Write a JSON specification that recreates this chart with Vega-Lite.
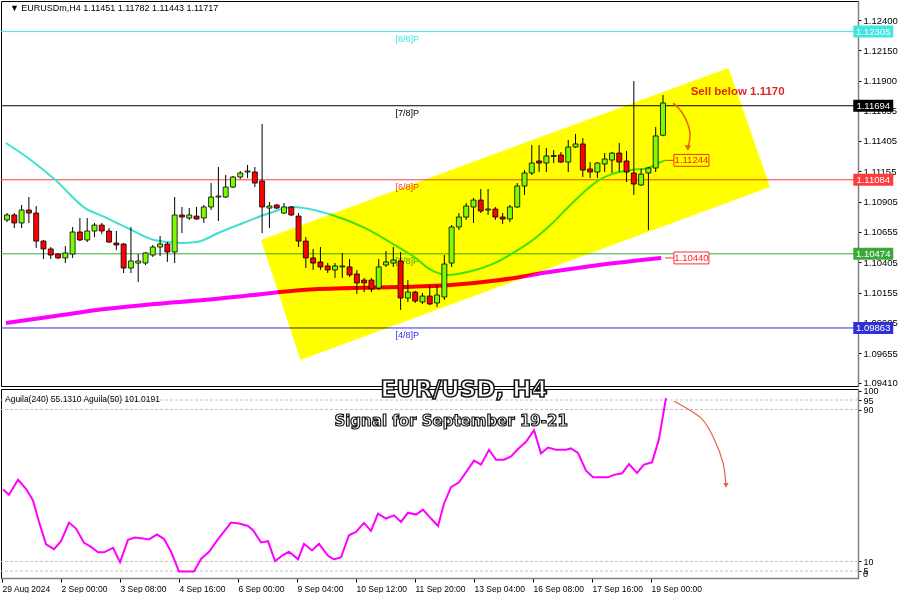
{
  "$schema": "https://vega.github.io/schema/vega-lite/v6.json",
  "background": "#ffffff",
  "padding": {"left": 0, "top": 0, "right": 0, "bottom": 0},
  "spacing": 3,
  "bounds": "flush",
  "config": {
    "view": {"stroke": "#000000", "strokeWidth": 1},
    "axis": {"labelFont": "Liberation Sans", "labelColor": "#000000", "tickColor": "#000000", "domainColor": "#808080", "grid": false, "labelOverlap": false, "labelFlush": false, "labelBound": false},
    "text": {"font": "Liberation Sans"}
  },
  "datasets": {
    "candles": [
      {"i":0,"o":1.10753,"h":1.10810,"l":1.10736,"c":1.10794},
      {"i":1,"o":1.10794,"h":1.10810,"l":1.10687,"c":1.10728},
      {"i":2,"o":1.10728,"h":1.10876,"l":1.10687,"c":1.10835},
      {"i":3,"o":1.10835,"h":1.10942,"l":1.10728,"c":1.10810},
      {"i":4,"o":1.10810,"h":1.10868,"l":1.10522,"c":1.10579},
      {"i":5,"o":1.10579,"h":1.10588,"l":1.10431,"c":1.10514},
      {"i":6,"o":1.10514,"h":1.10530,"l":1.10431,"c":1.10464},
      {"i":7,"o":1.10472,"h":1.10481,"l":1.10431,"c":1.10440},
      {"i":8,"o":1.10440,"h":1.10538,"l":1.10398,"c":1.10481},
      {"i":9,"o":1.10472,"h":1.10695,"l":1.10440,"c":1.10654},
      {"i":10,"o":1.10654,"h":1.10769,"l":1.10579,"c":1.10588},
      {"i":11,"o":1.10588,"h":1.10769,"l":1.10571,"c":1.10662},
      {"i":12,"o":1.10662,"h":1.10728,"l":1.10612,"c":1.10711},
      {"i":13,"o":1.10711,"h":1.10728,"l":1.10637,"c":1.10662},
      {"i":14,"o":1.10662,"h":1.10687,"l":1.10563,"c":1.10571},
      {"i":15,"o":1.10563,"h":1.10662,"l":1.10505,"c":1.10547},
      {"i":16,"o":1.10555,"h":1.10563,"l":1.10316,"c":1.10357},
      {"i":17,"o":1.10357,"h":1.10695,"l":1.10316,"c":1.10415},
      {"i":18,"o":1.10398,"h":1.10472,"l":1.10242,"c":1.10415},
      {"i":19,"o":1.10398,"h":1.10489,"l":1.10382,"c":1.10481},
      {"i":20,"o":1.10464,"h":1.10547,"l":1.10448,"c":1.10530},
      {"i":21,"o":1.10530,"h":1.10621,"l":1.10456,"c":1.10555},
      {"i":22,"o":1.10555,"h":1.10571,"l":1.10407,"c":1.10489},
      {"i":23,"o":1.10489,"h":1.10942,"l":1.10398,"c":1.10794},
      {"i":24,"o":1.10794,"h":1.10860,"l":1.10645,"c":1.10777},
      {"i":25,"o":1.10769,"h":1.10851,"l":1.10753,"c":1.10794},
      {"i":26,"o":1.10785,"h":1.10860,"l":1.10753,"c":1.10761},
      {"i":27,"o":1.10769,"h":1.10876,"l":1.10728,"c":1.10860},
      {"i":28,"o":1.10860,"h":1.11057,"l":1.10835,"c":1.10942},
      {"i":29,"o":1.10942,"h":1.11189,"l":1.10744,"c":1.10950},
      {"i":30,"o":1.10942,"h":1.11123,"l":1.10934,"c":1.11024},
      {"i":31,"o":1.11024,"h":1.11115,"l":1.11016,"c":1.11107},
      {"i":32,"o":1.11107,"h":1.11156,"l":1.11090,"c":1.11140},
      {"i":33,"o":1.11148,"h":1.11206,"l":1.11098,"c":1.11156},
      {"i":34,"o":1.11148,"h":1.11189,"l":1.11024,"c":1.11057},
      {"i":35,"o":1.11074,"h":1.11543,"l":1.10645,"c":1.10860},
      {"i":36,"o":1.10851,"h":1.10901,"l":1.10687,"c":1.10868},
      {"i":37,"o":1.10876,"h":1.10884,"l":1.10843,"c":1.10851},
      {"i":38,"o":1.10810,"h":1.10893,"l":1.10802,"c":1.10860},
      {"i":39,"o":1.10860,"h":1.10868,"l":1.10785,"c":1.10794},
      {"i":40,"o":1.10785,"h":1.10810,"l":1.10530,"c":1.10579},
      {"i":41,"o":1.10579,"h":1.10612,"l":1.10357,"c":1.10440},
      {"i":42,"o":1.10440,"h":1.10514,"l":1.10341,"c":1.10398},
      {"i":43,"o":1.10407,"h":1.10530,"l":1.10341,"c":1.10366},
      {"i":44,"o":1.10374,"h":1.10398,"l":1.10316,"c":1.10341},
      {"i":45,"o":1.10341,"h":1.10398,"l":1.10275,"c":1.10374},
      {"i":46,"o":1.10366,"h":1.10481,"l":1.10275,"c":1.10374},
      {"i":47,"o":1.10366,"h":1.10431,"l":1.10283,"c":1.10300},
      {"i":48,"o":1.10308,"h":1.10341,"l":1.10143,"c":1.10234},
      {"i":49,"o":1.10258,"h":1.10275,"l":1.10159,"c":1.10234},
      {"i":50,"o":1.10258,"h":1.10275,"l":1.10159,"c":1.10184},
      {"i":51,"o":1.10192,"h":1.10431,"l":1.10176,"c":1.10366},
      {"i":52,"o":1.10382,"h":1.10497,"l":1.10366,"c":1.10407},
      {"i":53,"o":1.10398,"h":1.10530,"l":1.10366,"c":1.10423},
      {"i":54,"o":1.10415,"h":1.10489,"l":1.10011,"c":1.10110},
      {"i":55,"o":1.10110,"h":1.10258,"l":1.10077,"c":1.10159},
      {"i":56,"o":1.10159,"h":1.10168,"l":1.10069,"c":1.10085},
      {"i":57,"o":1.10077,"h":1.10151,"l":1.10061,"c":1.10126},
      {"i":58,"o":1.10126,"h":1.10217,"l":1.10052,"c":1.10061},
      {"i":59,"o":1.10069,"h":1.10217,"l":1.10036,"c":1.10135},
      {"i":60,"o":1.10118,"h":1.10464,"l":1.10094,"c":1.10390},
      {"i":61,"o":1.10398,"h":1.10711,"l":1.10366,"c":1.10695},
      {"i":62,"o":1.10695,"h":1.10810,"l":1.10670,"c":1.10777},
      {"i":63,"o":1.10777,"h":1.10893,"l":1.10753,"c":1.10868},
      {"i":64,"o":1.10860,"h":1.10934,"l":1.10728,"c":1.10917},
      {"i":65,"o":1.10917,"h":1.11008,"l":1.10810,"c":1.10827},
      {"i":66,"o":1.10835,"h":1.11008,"l":1.10794,"c":1.10843},
      {"i":67,"o":1.10843,"h":1.10860,"l":1.10753,"c":1.10777},
      {"i":68,"o":1.10777,"h":1.10810,"l":1.10720,"c":1.10761},
      {"i":69,"o":1.10761,"h":1.10876,"l":1.10736,"c":1.10860},
      {"i":70,"o":1.10860,"h":1.11057,"l":1.10851,"c":1.11033},
      {"i":71,"o":1.11033,"h":1.11164,"l":1.10959,"c":1.11140},
      {"i":72,"o":1.11140,"h":1.11370,"l":1.11123,"c":1.11222},
      {"i":73,"o":1.11239,"h":1.11370,"l":1.11148,"c":1.11222},
      {"i":74,"o":1.11222,"h":1.11346,"l":1.11148,"c":1.11280},
      {"i":75,"o":1.11276,"h":1.11329,"l":1.11222,"c":1.11284},
      {"i":76,"o":1.11288,"h":1.11313,"l":1.11222,"c":1.11230},
      {"i":77,"o":1.11230,"h":1.11412,"l":1.11148,"c":1.11354},
      {"i":78,"o":1.11354,"h":1.11461,"l":1.11346,"c":1.11379},
      {"i":79,"o":1.11379,"h":1.11428,"l":1.11107,"c":1.11164},
      {"i":80,"o":1.11173,"h":1.11230,"l":1.11098,"c":1.11148},
      {"i":81,"o":1.11148,"h":1.11230,"l":1.11098,"c":1.11222},
      {"i":82,"o":1.11214,"h":1.11304,"l":1.11148,"c":1.11255},
      {"i":83,"o":1.11247,"h":1.11313,"l":1.11140,"c":1.11304},
      {"i":84,"o":1.11304,"h":1.11387,"l":1.11148,"c":1.11230},
      {"i":85,"o":1.11239,"h":1.11321,"l":1.11066,"c":1.11148},
      {"i":86,"o":1.11140,"h":1.11898,"l":1.10959,"c":1.11049},
      {"i":87,"o":1.11041,"h":1.11173,"l":1.11033,"c":1.11131},
      {"i":88,"o":1.11140,"h":1.11189,"l":1.10670,"c":1.11181},
      {"i":89,"o":1.11181,"h":1.11519,"l":1.11148,"c":1.11445},
      {"i":90,"o":1.11451,"h":1.11782,"l":1.11443,"c":1.11717}
    ],
    "ma20": [
      {"i":-0.14,"v":1.11387},{"i":3.25,"v":1.11247},{"i":6.64,"v":1.11082},{"i":10.71,"v":1.10851},
      {"i":13.42,"v":1.10777},{"i":17.08,"v":1.10670},{"i":20.2,"v":1.10588},{"i":23.86,"v":1.10563},
      {"i":26.03,"v":1.10571},{"i":29.29,"v":1.10654},{"i":32.41,"v":1.10728},{"i":36.07,"v":1.10810},
      {"i":39.19,"v":1.10860},{"i":44.61,"v":1.10794},{"i":49.08,"v":1.10687},{"i":52.75,"v":1.10563},
      {"i":55.86,"v":1.10448},{"i":58.17,"v":1.10341},{"i":60.47,"v":1.10300},{"i":63.19,"v":1.10324},
      {"i":67.25,"v":1.10407},{"i":69.42,"v":1.10481},{"i":72.14,"v":1.10588},{"i":74.85,"v":1.10728},
      {"i":77.56,"v":1.10893},{"i":79.46,"v":1.11000},{"i":81.22,"v":1.11082},{"i":82.98,"v":1.11131},
      {"i":85.69,"v":1.11164},{"i":88.0,"v":1.11181},{"i":89.36,"v":1.11222},{"i":90.31,"v":1.11244}
    ],
    "ma200": [
      {"i":-0.14,"v":1.09904},{"i":6.64,"v":1.09962},{"i":13.42,"v":1.10019},{"i":20.2,"v":1.10061},
      {"i":26.98,"v":1.10094},{"i":33.76,"v":1.10135},{"i":40.54,"v":1.10176},{"i":47.32,"v":1.10192},
      {"i":54.1,"v":1.10201},{"i":60.88,"v":1.10217},{"i":67.66,"v":1.10258},{"i":74.44,"v":1.10324},
      {"i":81.22,"v":1.10382},{"i":89.76,"v":1.10440}
    ],
    "osc": [
      {"i":0.14,"v":47.9},{"i":0.95,"v":45.1},{"i":2.17,"v":53.0},{"i":3.25,"v":48.3},{"i":4.2,"v":42.1},
      {"i":5.02,"v":30.8},{"i":5.97,"v":19.0},{"i":7.05,"v":16.5},{"i":8.0,"v":20.7},{"i":9.08,"v":30.5},
      {"i":10.03,"v":27.3},{"i":11.12,"v":19.8},{"i":12.07,"v":17.7},{"i":13.02,"v":14.8},{"i":13.83,"v":14.8},
      {"i":15.05,"v":17.2},{"i":16.0,"v":9.6},{"i":17.08,"v":21.4},{"i":18.03,"v":22.6},{"i":19.12,"v":22.1},
      {"i":19.93,"v":21.6},{"i":21.02,"v":24.2},{"i":21.97,"v":21.8},{"i":22.92,"v":15.1},{"i":24.0,"v":4.7},
      {"i":24.95,"v":4.7},{"i":26.03,"v":4.7},{"i":26.98,"v":11.3},{"i":28.07,"v":15.1},{"i":29.29,"v":21.8},
      {"i":31.05,"v":30.5},{"i":32.14,"v":30.0},{"i":33.36,"v":28.7},{"i":34.03,"v":26.5},{"i":35.12,"v":20.0},
      {"i":36.07,"v":20.7},{"i":37.02,"v":10.2},{"i":38.1,"v":13.4},{"i":38.92,"v":15.1},{"i":40.14,"v":11.1},
      {"i":40.95,"v":19.3},{"i":42.03,"v":15.8},{"i":42.98,"v":19.3},{"i":44.2,"v":13.0},{"i":45.02,"v":11.1},
      {"i":45.97,"v":12.2},{"i":47.05,"v":23.8},{"i":48.0,"v":25.6},{"i":49.08,"v":30.3},{"i":50.03,"v":26.1},
      {"i":50.98,"v":35.2},{"i":52.07,"v":32.6},{"i":53.15,"v":34.3},{"i":54.1,"v":30.8},{"i":55.05,"v":35.7},
      {"i":56.14,"v":34.7},{"i":57.08,"v":37.3},{"i":58.17,"v":32.6},{"i":59.12,"v":28.7},{"i":59.93,"v":40.4},
      {"i":60.88,"v":49.1},{"i":61.97,"v":51.7},{"i":64.0,"v":63.1},{"i":64.95,"v":61.0},{"i":66.03,"v":68.8},
      {"i":66.98,"v":63.6},{"i":68.07,"v":63.6},{"i":69.02,"v":65.3},{"i":69.97,"v":69.2},{"i":71.05,"v":73.0},
      {"i":72.14,"v":79.1},{"i":73.08,"v":66.9},{"i":74.03,"v":70.0},{"i":75.12,"v":68.8},{"i":76.47,"v":68.8},
      {"i":77.15,"v":69.5},{"i":78.1,"v":67.1},{"i":79.19,"v":57.8},{"i":80.14,"v":54.3},{"i":82.17,"v":54.3},
      {"i":82.98,"v":55.6},{"i":84.07,"v":56.4},{"i":85.02,"v":61.3},{"i":86.1,"v":56.6},{"i":87.05,"v":61.0},
      {"i":88.14,"v":62.2},{"i":89.08,"v":74.4},{"i":90.03,"v":96.0}
    ],
    "levels": [
      {"lvl":"[8/8]P","p":1.12305},
      {"lvl":"[7/8]P","p":1.11694},
      {"lvl":"[6/8]P","p":1.11084},
      {"lvl":"[5/8]P","p":1.10474},
      {"lvl":"[4/8]P","p":1.09863}
    ],
    "tags": [{"p":1.11244,"t":"1.11244"},{"p":1.10440,"t":"1.10440"}],
    "channel": [
      {"i":34.85,"top":1.10588,"bot":1.10588},
      {"i":40.27,"top":1.10708,"bot":1.09599},
      {"i":98.98,"top":1.12005,"bot":1.10898},
      {"i":104.68,"top":1.11024,"bot":1.11024}
    ],
    "arrow1": [
      {"k":0,"i":91.39,"p":1.11716},{"k":1,"i":92.75,"p":1.11626},{"k":2,"i":93.69,"p":1.11478},{"k":3,"i":93.42,"p":1.11346}
    ],
    "arrow2": [
      {"k":0,"i":91.12,"v":94.4},{"k":1,"i":94.78,"v":85.5},{"k":2,"i":96.54,"v":74.6},{"k":3,"i":97.76,"v":62.0},{"k":4,"i":98.17,"v":50.0}
    ],
    "oscLevels": [{"lv":95},{"lv":90},{"lv":10},{"lv":5}]
  },
  "vconcat": [
    {
      "width": 857,
      "height": 385,
      "layer": [
        {
          "data": {"name": "levels"},
          "mark": {"type": "rule", "strokeWidth": 1},
          "encoding": {
            "y": {"field": "p", "type": "quantitative", "scale": {"domain": [1.09385, 1.12557], "nice": false, "zero": false},
              "axis": {"orient": "right", "title": null, "values": [1.124, 1.1215, 1.119, 1.11655, 1.11405, 1.11155, 1.10905, 1.10655, 1.10405, 1.10155, 1.09905, 1.09655, 1.0941], "tickCount": 30, "format": ".5f", "labelFontSize": 9.5, "tickSize": 3, "labelPadding": 2, "domainWidth": 1.5, "labelOverlap": false}},
            "color": {"field": "lvl", "type": "nominal", "legend": null, "scale": {"domain": ["[8/8]P", "[7/8]P", "[6/8]P", "[5/8]P", "[4/8]P"], "range": ["#3ee8e0", "#000000", "#ff3c3c", "#3ca83c", "#3030d8"]}}
          }
        },
        {
          "mark": {"type": "rule", "color": "#9a9a9a", "strokeWidth": 1},
          "encoding": {"y": {"datum": 1.11719, "type": "quantitative", "scale": {"domain": [1.09385, 1.12557], "nice": false, "zero": false}}}
        },
        {
          "mark": {"type": "rule", "color": "#5a5ae6", "strokeWidth": 1},
          "encoding": {
            "x": {"datum": 35.8, "type": "quantitative", "scale": {"domain": [-0.14, 116.07], "nice": false, "zero": false}, "axis": null},
            "x2": {"datum": 116.07},
            "y": {"datum": 1.119, "type": "quantitative", "scale": {"domain": [1.09385, 1.12557], "nice": false, "zero": false}}
          }
        },
        {
          "data": {"name": "levels"},
          "mark": {"type": "text", "fontSize": 9, "dy": 7, "align": "center", "baseline": "middle"},
          "encoding": {
            "x": {"datum": 54.9, "type": "quantitative", "scale": {"domain": [-0.14, 116.07], "nice": false, "zero": false}, "axis": null},
            "y": {"field": "p", "type": "quantitative", "scale": {"domain": [1.09385, 1.12557], "nice": false, "zero": false}},
            "text": {"field": "lvl"},
            "color": {"field": "lvl", "type": "nominal", "legend": null}
          }
        },
        {
          "data": {"name": "ma200"},
          "mark": {"type": "line", "color": "#ff00ff", "strokeWidth": 4, "interpolate": "monotone", "clip": true},
          "encoding": {
            "x": {"field": "i", "type": "quantitative", "scale": {"domain": [-0.14, 116.07], "nice": false, "zero": false}, "axis": null},
            "y": {"field": "v", "type": "quantitative", "scale": {"domain": [1.09385, 1.12557], "nice": false, "zero": false}}
          }
        },
        {
          "data": {"name": "ma20"},
          "mark": {"type": "line", "color": "#40e0d0", "strokeWidth": 2, "interpolate": "monotone", "clip": true},
          "encoding": {
            "x": {"field": "i", "type": "quantitative", "scale": {"domain": [-0.14, 116.07], "nice": false, "zero": false}, "axis": null},
            "y": {"field": "v", "type": "quantitative", "scale": {"domain": [1.09385, 1.12557], "nice": false, "zero": false}}
          }
        },
        {
          "data": {"name": "candles"},
          "mark": {"type": "rule", "color": "#000000", "strokeWidth": 1, "clip": true},
          "encoding": {
            "x": {"field": "i", "type": "quantitative", "scale": {"domain": [-0.14, 116.07], "nice": false, "zero": false}, "axis": null},
            "y": {"field": "l", "type": "quantitative", "scale": {"domain": [1.09385, 1.12557], "nice": false, "zero": false}},
            "y2": {"field": "h"}
          }
        },
        {
          "data": {"name": "candles"},
          "mark": {"type": "bar", "size": 5, "stroke": "#000000", "strokeWidth": 0.8, "orient": "vertical", "clip": true},
          "encoding": {
            "x": {"field": "i", "type": "quantitative", "scale": {"domain": [-0.14, 116.07], "nice": false, "zero": false}, "axis": null},
            "y": {"field": "o", "type": "quantitative", "scale": {"domain": [1.09385, 1.12557], "nice": false, "zero": false}},
            "y2": {"field": "c"},
            "fill": {"condition": {"test": "datum.c >= datum.o", "value": "#7cfc00"}, "value": "#ff0000"}
          }
        },
        {
          "data": {"name": "tags"},
          "mark": {"type": "rule", "color": "#ff3030", "strokeWidth": 1},
          "encoding": {
            "x": {"datum": 90.3, "type": "quantitative", "scale": {"domain": [-0.14, 116.07], "nice": false, "zero": false}, "axis": null},
            "x2": {"datum": 91.5},
            "y": {"field": "p", "type": "quantitative", "scale": {"domain": [1.09385, 1.12557], "nice": false, "zero": false}}
          }
        },
        {
          "data": {"name": "tags"},
          "mark": {"type": "point", "shape": "M-1,-0.34H1V0.34H-1Z", "size": 1225, "filled": true, "fill": "#ffffff", "stroke": "#ff3030", "strokeWidth": 1, "opacity": 1},
          "encoding": {
            "x": {"datum": 93.9, "type": "quantitative", "scale": {"domain": [-0.14, 116.07], "nice": false, "zero": false}, "axis": null},
            "y": {"field": "p", "type": "quantitative", "scale": {"domain": [1.09385, 1.12557], "nice": false, "zero": false}}
          }
        },
        {
          "data": {"name": "tags"},
          "mark": {"type": "text", "fontSize": 9.5, "color": "#ff2020", "align": "center", "baseline": "middle"},
          "encoding": {
            "x": {"datum": 93.9, "type": "quantitative", "scale": {"domain": [-0.14, 116.07], "nice": false, "zero": false}, "axis": null},
            "y": {"field": "p", "type": "quantitative", "scale": {"domain": [1.09385, 1.12557], "nice": false, "zero": false}},
            "text": {"field": "t"}
          }
        },
        {
          "data": {"values": [{"t": "Sell below 1.1170"}]},
          "mark": {"type": "text", "fontSize": 11.5, "fontWeight": "bold", "color": "#e02828", "align": "left", "baseline": "middle"},
          "encoding": {
            "x": {"datum": 93.8, "type": "quantitative", "scale": {"domain": [-0.14, 116.07], "nice": false, "zero": false}, "axis": null},
            "y": {"datum": 1.11807, "type": "quantitative", "scale": {"domain": [1.09385, 1.12557], "nice": false, "zero": false}},
            "text": {"field": "t"}
          }
        },
        {
          "data": {"name": "arrow1"},
          "mark": {"type": "line", "color": "#e8662a", "strokeWidth": 1.5, "interpolate": "cardinal"},
          "encoding": {
            "x": {"field": "i", "type": "quantitative", "scale": {"domain": [-0.14, 116.07], "nice": false, "zero": false}, "axis": null},
            "y": {"field": "p", "type": "quantitative", "scale": {"domain": [1.09385, 1.12557], "nice": false, "zero": false}},
            "order": {"field": "k"}
          }
        },
        {
          "data": {"name": "arrow1"},
          "transform": [{"filter": "datum.k == 3"}],
          "mark": {"type": "point", "shape": "triangle-down", "size": 40, "filled": true, "color": "#e8662a", "opacity": 1},
          "encoding": {
            "x": {"field": "i", "type": "quantitative", "scale": {"domain": [-0.14, 116.07], "nice": false, "zero": false}, "axis": null},
            "y": {"field": "p", "type": "quantitative", "scale": {"domain": [1.09385, 1.12557], "nice": false, "zero": false}}
          }
        },
        {
          "data": {"values": [{"t": "▼ EURUSDm,H4  1.11451 1.11782 1.11443 1.11717"}]},
          "mark": {"type": "text", "fontSize": 9, "color": "#000000", "align": "left", "baseline": "middle"},
          "encoding": {
            "x": {"datum": 0.4, "type": "quantitative", "scale": {"domain": [-0.14, 116.07], "nice": false, "zero": false}, "axis": null},
            "y": {"datum": 1.12499, "type": "quantitative", "scale": {"domain": [1.09385, 1.12557], "nice": false, "zero": false}},
            "text": {"field": "t"}
          }
        },
        {
          "data": {"name": "channel"},
          "mark": {"type": "area", "color": "#ffff00", "opacity": 1, "blend": "multiply", "orient": "vertical"},
          "encoding": {
            "x": {"field": "i", "type": "quantitative", "scale": {"domain": [-0.14, 116.07], "nice": false, "zero": false}, "axis": null},
            "y": {"field": "top", "type": "quantitative", "scale": {"domain": [1.09385, 1.12557], "nice": false, "zero": false}},
            "y2": {"field": "bot"}
          }
        },
        {
          "data": {"name": "levels"},
          "mark": {"type": "point", "shape": "M-1,-0.3H1V0.3H-1Z", "size": 1600, "filled": true, "opacity": 1, "strokeWidth": 0},
          "encoding": {
            "x": {"datum": 118.85, "type": "quantitative", "scale": {"domain": [-0.14, 116.07], "nice": false, "zero": false}, "axis": null},
            "y": {"field": "p", "type": "quantitative", "scale": {"domain": [1.09385, 1.12557], "nice": false, "zero": false}},
            "color": {"field": "lvl", "type": "nominal", "legend": null}
          }
        },
        {
          "data": {"name": "levels"},
          "mark": {"type": "text", "fontSize": 9.5, "color": "#ffffff", "align": "center", "baseline": "middle"},
          "encoding": {
            "x": {"datum": 118.85, "type": "quantitative", "scale": {"domain": [-0.14, 116.07], "nice": false, "zero": false}, "axis": null},
            "y": {"field": "p", "type": "quantitative", "scale": {"domain": [1.09385, 1.12557], "nice": false, "zero": false}},
            "text": {"field": "p", "format": ".5f"}
          }
        }
      ]
    },
    {
      "width": 857,
      "height": 189,
      "layer": [
        {
          "data": {"name": "oscLevels"},
          "mark": {"type": "rule", "color": "#c4c4c4", "strokeWidth": 1, "strokeDash": [3, 2]},
          "encoding": {
            "y": {"field": "lv", "type": "quantitative", "scale": {"domain": [1.3, 100.8], "nice": false, "zero": false},
              "axis": {"orient": "right", "title": null, "values": [100, 95, 90, 10, 5], "tickCount": 20, "format": "d", "labelFontSize": 9, "tickSize": 3, "labelPadding": 2, "domainWidth": 1.5, "labelOverlap": false}}
          }
        },
        {
          "data": {"name": "osc"},
          "mark": {"type": "line", "color": "#ff00ff", "strokeWidth": 2, "clip": true},
          "encoding": {
            "x": {"field": "i", "type": "quantitative", "scale": {"domain": [-0.14, 116.07], "nice": false, "zero": false},
              "axis": {"orient": "bottom", "title": null, "values": [0, 8, 16, 24, 32, 40, 48, 56, 64, 72, 80, 88], "tickCount": 30, "labelExpr": "['29 Aug 2024','2 Sep 00:00','3 Sep 08:00','4 Sep 16:00','6 Sep 00:00','9 Sep 04:00','10 Sep 12:00','11 Sep 20:00','13 Sep 04:00','16 Sep 08:00','17 Sep 16:00','19 Sep 00:00'][round(datum.value/8)]", "labelAlign": "left", "labelFontSize": 8.5, "tickSize": 4, "labelPadding": 2, "domainWidth": 1.5, "labelOverlap": false}},
            "y": {"field": "v", "type": "quantitative", "scale": {"domain": [1.3, 100.8], "nice": false, "zero": false}}
          }
        },
        {
          "data": {"values": [{"t": "0"}]},
          "mark": {"type": "text", "fontSize": 9, "color": "#000000", "align": "left", "baseline": "bottom", "dy": 1},
          "encoding": {
            "x": {"datum": 116.75, "type": "quantitative", "scale": {"domain": [-0.14, 116.07], "nice": false, "zero": false}},
            "y": {"datum": 1.3, "type": "quantitative", "scale": {"domain": [1.3, 100.8], "nice": false, "zero": false}},
            "text": {"field": "t"}
          }
        },
        {
          "data": {"name": "arrow2"},
          "mark": {"type": "line", "color": "#e8604c", "strokeWidth": 1.2, "interpolate": "cardinal"},
          "encoding": {
            "x": {"field": "i", "type": "quantitative", "scale": {"domain": [-0.14, 116.07], "nice": false, "zero": false}},
            "y": {"field": "v", "type": "quantitative", "scale": {"domain": [1.3, 100.8], "nice": false, "zero": false}},
            "order": {"field": "k"}
          }
        },
        {
          "data": {"name": "arrow2"},
          "transform": [{"filter": "datum.k == 4"}],
          "mark": {"type": "point", "shape": "triangle-down", "size": 30, "filled": true, "color": "#e8604c", "opacity": 1},
          "encoding": {
            "x": {"field": "i", "type": "quantitative", "scale": {"domain": [-0.14, 116.07], "nice": false, "zero": false}},
            "y": {"field": "v", "type": "quantitative", "scale": {"domain": [1.3, 100.8], "nice": false, "zero": false}}
          }
        },
        {
          "data": {"values": [{"t": "Aguila(240) 55.1310  Aguila(50) 101.0191"}]},
          "mark": {"type": "text", "fontSize": 8.5, "color": "#000000", "align": "left", "baseline": "middle"},
          "encoding": {
            "x": {"datum": 0.4, "type": "quantitative", "scale": {"domain": [-0.14, 116.07], "nice": false, "zero": false}},
            "y": {"datum": 95.5, "type": "quantitative", "scale": {"domain": [1.3, 100.8], "nice": false, "zero": false}},
            "text": {"field": "t"}
          }
        },
        {
          "data": {"values": [{"t": "EUR/USD, H4"}]},
          "mark": {"type": "text", "font": "DejaVu Sans", "fontWeight": "bold", "fontSize": 23, "fill": "#ffffff", "stroke": "#151515", "strokeWidth": 1.6, "align": "center", "baseline": "middle"},
          "encoding": {
            "x": {"datum": 62.64, "type": "quantitative", "scale": {"domain": [-0.14, 116.07], "nice": false, "zero": false}},
            "y": {"datum": 100.3, "type": "quantitative", "scale": {"domain": [1.3, 100.8], "nice": false, "zero": false}},
            "text": {"field": "t"}
          }
        },
        {
          "data": {"values": [{"t": "Signal for September 19-21"}]},
          "mark": {"type": "text", "font": "DejaVu Sans", "fontWeight": "bold", "fontSize": 15, "fill": "#ffffff", "stroke": "#151515", "strokeWidth": 1.2, "align": "center", "baseline": "middle"},
          "encoding": {
            "x": {"datum": 60.9, "type": "quantitative", "scale": {"domain": [-0.14, 116.07], "nice": false, "zero": false}},
            "y": {"datum": 83.9, "type": "quantitative", "scale": {"domain": [1.3, 100.8], "nice": false, "zero": false}},
            "text": {"field": "t"}
          }
        }
      ]
    }
  ]
}
